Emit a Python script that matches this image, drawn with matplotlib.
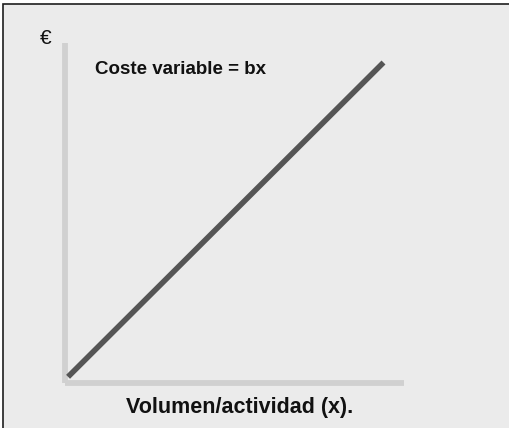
import numpy as np
import matplotlib.pyplot as plt
from matplotlib.patches import Rectangle

# variable cost: cost = b * x
volumen = np.array([0.0, 10.0])
b = 1.0
coste = b * volumen

plt.rcParams['font.family'] = ['Liberation Sans', 'DejaVu Sans']

W, H = 509, 428
fig = plt.figure(figsize=(W / 100, H / 100), dpi=100, facecolor='white')

# panel background with a dark edge on top and left
panel = Rectangle((3 / W, -0.05), 1.1, (H - 4) / H + 0.05, transform=fig.transFigure,
                  facecolor='#ebebeb', edgecolor='#1e1e1e', linewidth=1.2, zorder=0)
fig.patches.append(panel)

ax = fig.add_axes([65 / W, 45 / H, 339 / W, 340 / H], zorder=2)
ax.patch.set_visible(False)
ax.plot(volumen, coste, color='#555555', lw=4.0, solid_capstyle='butt', zorder=3)

ax.set_xlim(-0.097, 10.65)
ax.set_ylim(-0.197, 10.62)
ax.set_xticks([])
ax.set_yticks([])
for side in ['top', 'right']:
    ax.spines[side].set_visible(False)
for side in ['left', 'bottom']:
    ax.spines[side].set_color('#d0d0d0')
    ax.spines[side].set_linewidth(4.2)
    ax.spines[side].set_capstyle('butt')

fig.text(46 / W, 1 - 39 / H, '€', fontsize=15, ha='center', va='center', color='#111111')
fig.text(95 / W, 1 - 69 / H, 'Coste variable = bx', fontsize=13.5, fontweight='bold',
         ha='left', va='center', color='#111111')
fig.text(240 / W, 1 - 408 / H, 'Volumen/actividad (x).', fontsize=15.5, fontweight='bold',
         ha='center', va='center', color='#111111')

fig.savefig('out.png', dpi=100, facecolor=fig.get_facecolor())
